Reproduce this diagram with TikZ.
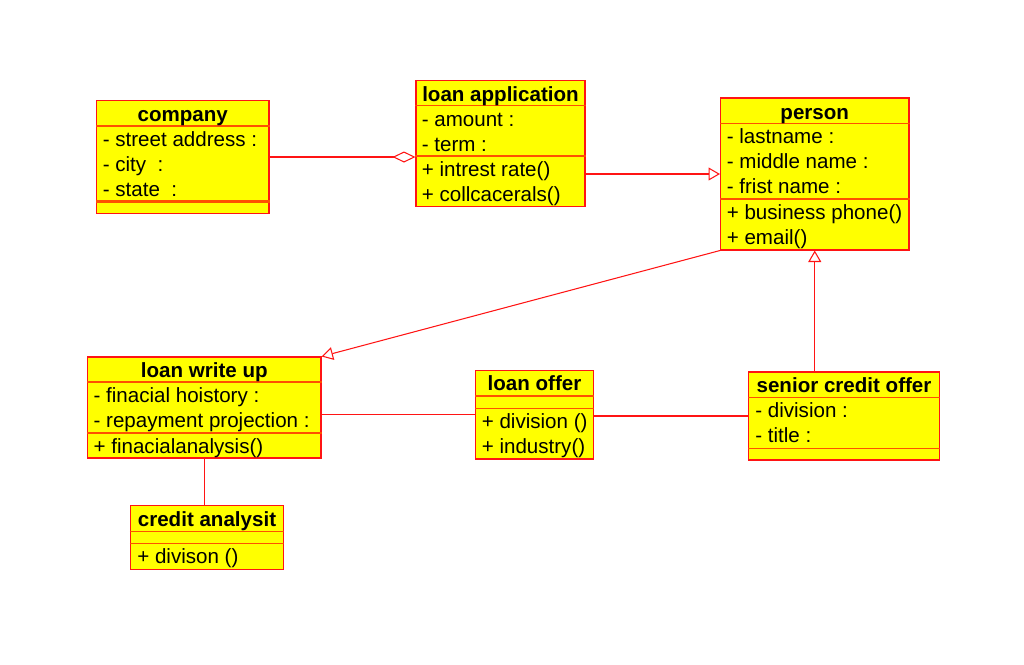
\documentclass[tikz,border=0pt]{standalone}
\usepackage{fontspec}
\setmainfont{Liberation Sans}
\usetikzlibrary{arrows.meta}
\definecolor{umlred}{RGB}{255,20,20}
\definecolor{umlsep}{RGB}{255,80,0}
\definecolor{umlfill}{RGB}{255,255,0}
\tikzset{
  classbox/.style={draw=umlred, fill=umlfill, line width=0.6pt, inner sep=0pt},
  sepline/.style={draw=umlsep, line width=0.6pt},
  classname/.style={anchor=base, inner sep=0pt, font=\bfseries},
  member/.style={anchor=base west, inner sep=0pt},
  link/.style={draw=umlred, line width=0.6pt},
  inherit/.style={link, -{Triangle[open, length=0.23cm, width=0.26cm, fill=white]}},
  aggregate/.style={link, -{Diamond[open, length=0.46cm, width=0.22cm, fill=white]}}
}
\begin{document}
\begin{tikzpicture}[x=0.02cm, y=-0.02cm]
        \fontsize{11.7}{14}\selectfont
        \useasboundingbox (0, 0) rectangle (1024, 664);

        % class boxes
        \node[classbox, minimum width=3.45cm, minimum height=2.26cm] (company) at (182.75, 157) {};
        \node[classbox, minimum width=3.38cm, minimum height=2.52cm] (loanapp) at (500.5, 143.5) {};
        \node[classbox, minimum width=3.77cm, minimum height=3.04cm] (person) at (814.75, 174) {};
        \node[classbox, minimum width=4.67cm, minimum height=2.02cm] (writeup) at (204.25, 407.5) {};
        \node[classbox, minimum width=2.36cm, minimum height=1.77cm] (offer) at (534.5, 414.75) {};
        \node[classbox, minimum width=3.06cm, minimum height=1.28cm] (analyst) at (207, 537.5) {};
        \node[classbox, minimum width=3.82cm, minimum height=1.76cm] (senior) at (844, 416) {};

        % compartments
        \draw[sepline] (company.west |- 0, 126) -- (company.east |- 0, 126);
        \draw[sepline, line width=1.2pt] (company.west |- 0, 201.5) -- (company.east |- 0, 201.5);
        \draw[sepline] (loanapp.west |- 0, 105.5) -- (loanapp.east |- 0, 105.5);
        \draw[sepline] (loanapp.west |- 0, 156) -- (loanapp.east |- 0, 156);
        \draw[sepline] (person.west |- 0, 123.5) -- (person.east |- 0, 123.5);
        \draw[sepline] (person.west |- 0, 199) -- (person.east |- 0, 199);
        \draw[sepline] (writeup.west |- 0, 382) -- (writeup.east |- 0, 382);
        \draw[sepline] (writeup.west |- 0, 433) -- (writeup.east |- 0, 433);
        \draw[sepline] (offer.west |- 0, 396) -- (offer.east |- 0, 396);
        \draw[sepline] (offer.west |- 0, 408.5) -- (offer.east |- 0, 408.5);
        \draw[sepline] (analyst.west |- 0, 531.5) -- (analyst.east |- 0, 531.5);
        \draw[sepline] (analyst.west |- 0, 543.5) -- (analyst.east |- 0, 543.5);
        \draw[sepline] (senior.west |- 0, 397.5) -- (senior.east |- 0, 397.5);
        \draw[sepline] (senior.west |- 0, 448.5) -- (senior.east |- 0, 448.5);

        % company
        \node[classname] (company-t) at (182.75, 121) {company};
        \node[member] (company-a1) at (102.5, 146.5) {- street address :};
        \node[member] (company-a2) at (102.5, 171.5) {- city~~:};
        \node[member] (company-a3) at (102.5, 196.5) {- state~~:};

        % loan application
        \node[classname] (loanapp-t) at (500.5, 101) {loan application};
        \node[member] (loanapp-a1) at (421.5, 126) {- amount :};
        \node[member] (loanapp-a2) at (421.5, 151) {- term :};
        \node[member] (loanapp-o1) at (421.5, 176.5) {+ intrest rate()};
        \node[member] (loanapp-o2) at (421.5, 201.5) {+ collcacerals()};

        % person
        \node[classname] (person-t) at (814.75, 119.3) {person};
        \node[member] (person-a1) at (726.5, 143.3) {- lastname :};
        \node[member] (person-a2) at (726.5, 168.3) {- middle name :};
        \node[member] (person-a3) at (726.5, 193.7) {- frist name :};
        \node[member] (person-o1) at (726.5, 219) {+ business phone()};
        \node[member] (person-o2) at (726.5, 244.3) {+ email()};

        % loan write up
        \node[classname] (writeup-t) at (204.25, 377.3) {loan write up};
        \node[member] (writeup-a1) at (93.3, 402.7) {- finacial hoistory :};
        \node[member] (writeup-a2) at (93.3, 427.7) {- repayment projection :};
        \node[member] (writeup-o1) at (93.3, 453.3) {+ finacialanalysis()};

        % loan offer
        \node[classname] (offer-t) at (534.5, 390.7) {loan offer};
        \node[member] (offer-o1) at (481.5, 428.3) {+ division ()};
        \node[member] (offer-o2) at (481.5, 453.3) {+ industry()};

        % credit analysit
        \node[classname] (analyst-t) at (207, 526) {credit analysit};
        \node[member] (analyst-o1) at (137, 563.3) {+ divison ()};

        % senior credit offer
        \node[classname] (senior-t) at (844, 392.3) {senior credit offer};
        \node[member] (senior-a1) at (755, 417.3) {- division :};
        \node[member] (senior-a2) at (755, 442) {- title :};

        % relations
        \draw[aggregate] (company.east) -- (company.east -| loanapp.west);
        \draw[inherit] (loanapp.east |- person.west) -- (person.west);
        \draw[inherit] (person.south west) -- (writeup.north east);
        \draw[inherit] (person.south |- senior.north) -- (person.south);
        \draw[link] (writeup.east |- offer.west) -- (offer.west);
        \draw[link] (offer.east |- senior.west) -- (senior.west);
        \draw[link] (writeup.south) -- (writeup.south |- analyst.north);
    \end{tikzpicture}
\end{document}
